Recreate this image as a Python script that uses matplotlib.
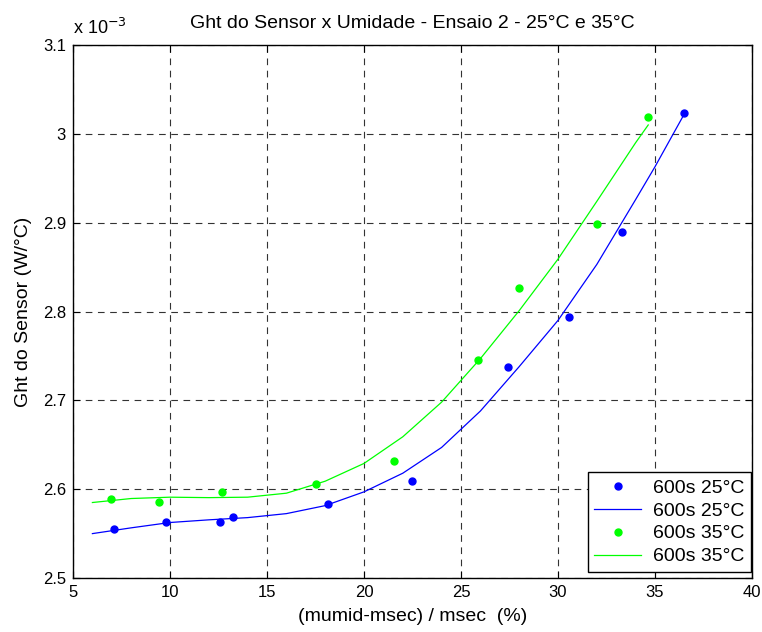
import numpy as np
import matplotlib
matplotlib.use("Agg")
import matplotlib.pyplot as plt

plt.rcParams.update({
    "font.family": ["Liberation Sans", "DejaVu Sans"],
    "font.size": 14,
})

# ensaio 2 - pontos medidos (Ght em 1e-3 W/°C)
umid_25 = [7.13, 9.79, 12.59, 13.23, 18.16, 22.49, 27.40, 30.57, 33.30, 36.51]
ght_25 = [2.555, 2.563, 2.563, 2.569, 2.583, 2.609, 2.738, 2.794, 2.889, 3.024]
umid_35 = [6.96, 9.45, 12.68, 17.51, 21.56, 25.89, 27.97, 32.01, 34.65]
ght_35 = [2.589, 2.586, 2.597, 2.606, 2.632, 2.745, 2.826, 2.898, 3.019]

# curvas de ajuste
fit_x_25 = [6, 8, 10, 12, 14, 16, 18, 20, 22, 24, 26, 28, 30, 32, 34, 35, 36.5]
fit_y_25 = [2.550, 2.5565, 2.5625, 2.5655, 2.568, 2.5725, 2.5815, 2.597,
            2.618, 2.647, 2.688, 2.738, 2.790, 2.853, 2.926, 2.963, 3.022]
fit_x_35 = [6, 8, 10, 12, 14, 16, 18, 20, 22, 24, 26, 28, 30, 32, 34, 34.65]
fit_y_35 = [2.585, 2.5895, 2.591, 2.5905, 2.591, 2.5955, 2.609, 2.629,
            2.659, 2.698, 2.747, 2.801, 2.859, 2.924, 2.990, 3.010]

fig = plt.figure(figsize=(7.62, 6.32), dpi=100)
ax = fig.add_axes([0.0958, 0.0854, 0.8911, 0.8434])

ax.plot(umid_25, ght_25, "o", color="#0000ff", markersize=5, label="600s 25°C")
ax.plot(fit_x_25, fit_y_25, "-", color="#0000ff", lw=0.9, label="600s 25°C")
ax.plot(umid_35, ght_35, "o", color="#00ff00", markersize=5, label="600s 35°C")
ax.plot(fit_x_35, fit_y_35, "-", color="#00ff00", lw=0.9, label="600s 35°C")

ax.set_xlim(5, 40)
ax.set_ylim(2.5, 3.1)
ax.set_xticks(np.arange(5, 41, 5))
ax.set_yticks(np.arange(2.5, 3.11, 0.1))
ax.set_yticklabels(["2.5", "2.6", "2.7", "2.8", "2.9", "3", "3.1"])
ax.grid(True, color="#333333", linestyle=(0, (6, 5)), linewidth=0.8)
ax.tick_params(direction="in", top=True, right=True, length=5,
               labelsize=12, pad=5)
for s in ax.spines.values():
    s.set_linewidth(1.0)

ax.text(0.0, 1.02, "x 10$^{-3}$", transform=ax.transAxes, fontsize=13)
ax.set_title("Ght do Sensor x Umidade - Ensaio 2 - 25°C e 35°C",
             fontsize=14, pad=12)
ax.set_xlabel("(mumid-msec) / msec  (%)", labelpad=6)
ax.set_ylabel("Ght do Sensor (W/°C)", labelpad=8)

leg = ax.legend(loc="lower right", bbox_to_anchor=(0.9985, 0.011),
                borderaxespad=0, fancybox=False, edgecolor="black",
                framealpha=1, handlelength=2.4, handletextpad=0.6,
                labelspacing=0.27, borderpad=0.35, fontsize=14)
leg.get_frame().set_linewidth(1.0)

fig.savefig("out.png", dpi=100)
